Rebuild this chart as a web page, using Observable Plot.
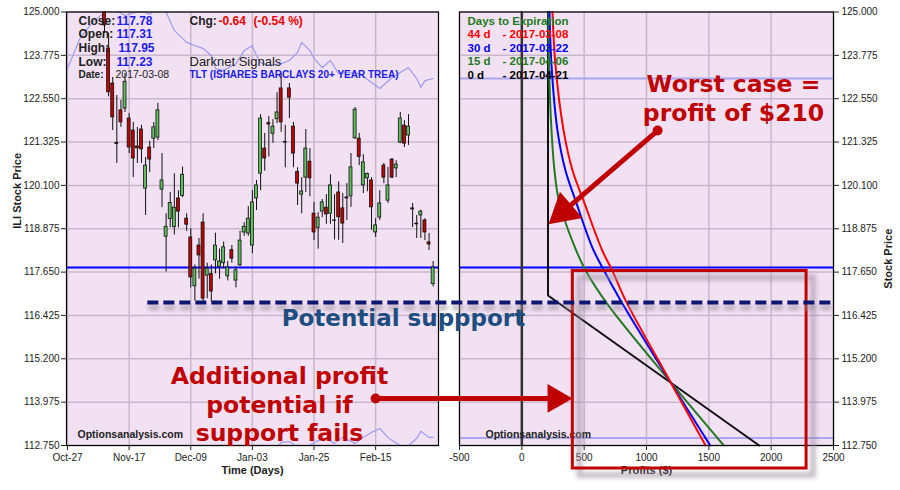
<!DOCTYPE html>
<html>
<head>
<meta charset="utf-8">
<script src="https://cdn.jsdelivr.net/npm/d3@7"></script>
<script src="https://cdn.jsdelivr.net/npm/@observablehq/plot@0.6"></script>
<style>
  html, body { margin: 0; padding: 0; background: #fff; }
  #chart { position: relative; width: 900px; height: 490px; overflow: hidden; }
  #chart svg { position: absolute; left: 0; top: 0; overflow: visible; }
</style>
</head>
<body>
<div id="chart"></div>
<script>
// ---------------- DATA ----------------
// left panel: trading-day index (0 = Oct-27) and OHLC prices
const tickIndex = [0, 15, 30, 45, 60, 75];
const tickLabels = ["Oct-27", "Nov-17", "Dec-09", "Jan-03", "Jan-25", "Feb-15"];
const priceTicks = [112.75, 113.975, 115.2, 116.425, 117.65, 118.875, 120.1, 121.325, 122.55, 123.775, 125];
const profitTicks = [-500, 0, 500, 1000, 1500, 2000, 2500];

const dayIndex = [9,10,11,12,13,14,15,16,17,18,19,20,21,22,23,24,25,26,27,28,29,30,31,32,33,34,35,36,37,38,39,40,41,42,43,44,45,46,47,48,49,50,51,52,53,54,55,56,57,58,59,60,61,62,63,64,65,66,67,68,69,70,71,72,73,74,75,76,77,78,79,80,81,82,83,84,85,86,87,88,89];
const openP = [125.50,123.97,122.98,121.30,122.22,122.27,121.99,121.65,121.20,121.68,120.01,121.17,121.42,121.45,119.98,118.65,119.15,118.92,119.73,119.80,119.16,118.63,117.25,118.40,119.05,117.55,117.60,117.98,117.80,117.90,117.53,118.27,117.41,117.84,118.77,118.74,118.40,119.73,120.43,121.14,121.86,121.56,121.97,122.84,121.33,122.84,121.76,120.48,119.84,120.32,120.77,119.30,118.90,119.36,119.47,119.30,119.11,119.90,119.45,119.76,119.79,121.43,121.42,120.10,120.30,120.24,118.77,119.19,120.66,119.67,120.83,120.58,121.31,121.79,121.51,119.45,119.02,119.25,119.11,118.49,117.31];
const highP = [125.80,124.40,123.15,122.64,122.50,123.26,122.13,121.88,121.74,121.80,120.89,121.35,121.88,122.42,121.00,119.30,119.90,120.43,119.95,120.62,119.30,118.88,117.85,118.60,119.30,117.90,117.85,118.75,118.30,118.50,117.95,118.40,117.80,118.80,119.05,119.50,119.95,120.24,122.10,121.57,122.05,121.96,122.72,123.26,121.80,122.98,121.88,120.60,120.32,121.68,121.14,119.62,119.33,119.70,119.84,120.40,119.84,120.20,119.87,120.15,121.00,122.30,121.57,120.97,120.45,120.32,119.16,119.95,120.72,120.61,120.86,120.80,122.16,121.93,122.10,119.59,119.25,119.40,119.16,118.74,117.95];
const lowP = [124.40,122.60,121.65,120.72,121.74,122.16,121.00,120.32,120.72,120.72,119.25,120.46,121.14,121.37,119.47,117.65,118.90,118.70,118.90,119.75,118.80,117.20,116.83,117.45,116.75,116.90,116.80,117.60,117.45,117.75,117.40,117.90,117.20,117.80,118.66,118.66,118.17,119.39,119.95,120.50,120.90,121.29,121.85,121.60,120.60,121.99,120.60,119.53,119.30,119.90,119.78,118.54,118.30,119.19,119.00,119.00,118.56,118.55,118.46,119.11,119.48,121.40,120.66,119.87,119.92,118.83,118.63,119.11,120.15,119.59,120.29,120.32,121.28,121.17,121.23,118.91,118.60,118.60,118.54,118.26,117.23];
const closeP = [124.62,122.73,122.02,121.27,121.88,123.03,121.17,120.86,121.15,121.12,120.66,120.83,121.74,122.22,120.24,118.93,119.60,119.47,119.36,120.40,118.99,117.50,117.75,118.12,116.90,117.75,117.10,118.40,117.95,118.35,117.78,118.03,117.70,118.54,118.93,119.16,119.62,120.10,121.99,120.86,121.82,121.76,122.16,121.88,121.31,122.58,121.00,120.15,119.93,121.14,120.30,118.77,119.19,119.62,119.28,120.10,119.10,119.20,119.02,119.73,120.61,122.24,120.90,120.75,120.42,119.48,118.97,119.59,120.32,120.10,120.32,120.69,121.99,121.28,121.76,119.42,119.00,119.36,118.77,118.43,117.78];

// light overlay indicator (upper and lower traces), in price units
const indTopDay = [0,3,6,9,11,14,18,20,22,24,26,29,31,33,35,36,38,41,43,45,46,47,49,52,54,56,57,59,60,62,64,66,68,71,74,76,79,83,85,86,87,89];
const indTopVal = [123.40,124.25,124.70,124.99,125.10,124.90,125.04,124.93,125.13,124.99,124.48,124.14,124.05,123.97,123.77,123.40,123.35,123.54,123.91,124.05,123.77,123.57,123.49,123.54,123.63,123.86,124.14,123.91,123.69,123.43,123.63,123.26,123.29,123.26,123.01,122.84,123.15,123.43,123.12,122.87,123.06,123.12];
const indLowDay = [50,52,54,57,58,61,63,65,67,70,72,74,76,78,79,81,83,85,86,88,89];
const indLowVal = [112.50,112.84,112.86,112.64,112.69,112.89,112.95,112.81,112.98,112.81,112.98,113.12,113.23,112.98,112.89,112.75,112.75,112.95,113.15,112.98,112.98];

// right panel: profit ($) vs stock price for each expiration
const redPrice   = [125.0, 123.49, 121.65, 120.52, 119.67, 118.26, 117.70, 116.85, 114.54, 112.75];
const redProfit  = [246, 270, 335, 407, 495, 645, 725, 832, 1193, 1474];
const bluePrice  = [125.0, 123.49, 121.65, 120.52, 119.67, 118.35, 117.70, 116.85, 114.54, 112.75];
const blueProfit = [222, 238, 286, 350, 431, 565, 658, 792, 1193, 1511];
const greenPrice = [125.0, 123.49, 121.65, 120.52, 119.67, 118.54, 117.70, 116.75, 114.54, 112.75];
const greenProfit= [214, 218, 238, 262, 297, 404, 511, 685, 1193, 1620];
const blackPrice = [125.0, 116.99, 112.75];
const blackProfit= [210, 210, 1904];

const seriesNames = ["44 d", "30 d", "15 d", "0 d"];
const seriesDates = ["- 2017-03-08", "- 2017-03-22", "- 2017-04-06", "- 2017-04-21"];
const seriesColors = ["#ff0000", "#0000ff", "#237a23", "#000000"];

const lastClose = 117.78, prevChange = -0.64, prevChangePct = -0.54;
const supportLevel = 116.79;
const upperRef = 123.12, lowerRef = 112.96;

// annotation anchors (profit $, price)
const worstArrow = {from: [1089, 121.65], to: [214, 119.0]};
const addArrow = {from: [-1173, 114.08], to: [407, 114.08]};
const highlightBox = {x1: 409, x2: 2284, y1: 112.10, y2: 117.68};

// ---------------- LAYOUT ----------------
const W = 900, H = 490, mTop = 11.5, mBottom = 45;
const leftL = 66, leftR = 438, rightL = 459, rightR = 833;
const lavender = "#f1e1f3", gridC = "#cbb7cd";
const red = "#c00000", navy = "#0a1670";
const shadowC = "#9d8d9f", shadowC2 = "#9e8ea0";
const base = "'Liberation Sans', Arial, sans-serif";
const anno = "'DejaVu Sans', sans-serif";

const candles = dayIndex.map((d, k) => ({i: d, o: openP[k], h: highP[k], l: lowP[k], c: closeP[k]}));
const mk = (xs, ys) => xs.map((x, k) => ({x, y: ys[k]}));
const redC = mk(redProfit, redPrice), blueC = mk(blueProfit, bluePrice),
      greenC = mk(greenProfit, greenPrice), blackC = mk(blackProfit, blackPrice);

const hdrL = (t, px, py, o = {}) => Plot.text([t], {frameAnchor: "top-left", dx: px - leftL, dy: py - mTop,
  textAnchor: "start", lineAnchor: "bottom", fontFamily: base, fontSize: 12, fontWeight: "bold", fill: "#222", ...o});
const hdrR = (t, px, py, o = {}) => Plot.text([t], {frameAnchor: "top-left", dx: px - rightL, dy: py - mTop,
  textAnchor: "start", lineAnchor: "bottom", fontFamily: base, fontSize: 11.5, fontWeight: "bold", fill: "#222", ...o});

const last = candles[candles.length - 1];
const blueTxt = "#1c1cf0";

const left = Plot.plot({
  width: W, height: H,
  marginLeft: leftL, marginRight: W - leftR, marginTop: mTop, marginBottom: mBottom,
  style: {background: "transparent", overflow: "visible", fontFamily: base, fontSize: "10px", color: "#222"},
  x: {domain: [-0.25, 90.3]},
  y: {domain: [112.75, 125]},
  color: {type: "identity"},
  marks: [
    Plot.frame({fill: lavender}),
    Plot.gridX(tickIndex, {stroke: gridC, strokeOpacity: 1, strokeWidth: 1.5}),
    Plot.gridY(priceTicks, {stroke: gridC, strokeOpacity: 1, strokeWidth: 1.5}),
    Plot.line(mk(indTopDay, indTopVal), {x: "x", y: "y", stroke: "#9c9cf0", strokeWidth: 1.2, clip: true}),
    Plot.line(mk(indLowDay, indLowVal), {x: "x", y: "y", stroke: "#9c9cf0", strokeWidth: 1.2, clip: true}),
    Plot.ruleY([lastClose], {stroke: "#0000ff", strokeWidth: 2}),
    Plot.ruleX(candles, {x: "i", y1: "l", y2: "h", stroke: "#111", strokeWidth: 1, clip: true}),
    Plot.rect(candles, {x1: d => d.i - 0.36, x2: d => d.i + 0.36, y1: "o", y2: "c",
      fill: d => d.c >= d.o ? "#5fbf5f" : "#c00000", stroke: "#111", strokeWidth: 0.8, clip: true}),
    Plot.frame({stroke: "#000", strokeWidth: 1.2}),
    Plot.axisX(tickIndex, {anchor: "bottom", tickSize: 5, tickPadding: 3, fontSize: 10,
      tickFormat: d => tickLabels[tickIndex.indexOf(d)], label: null}),
    Plot.axisY(priceTicks, {anchor: "left", tickSize: 5, tickPadding: 2, fontSize: 10,
      tickFormat: d3.format(".3f"), label: null}),
    Plot.text(["Time (Days)"], {frameAnchor: "bottom", dy: 28, fontSize: 11, fontWeight: "bold", fill: "#222"}),
    Plot.text(["ILI Stock Price"], {frameAnchor: "left", dx: -49, rotate: -90, fontSize: 11, fontWeight: "bold", fill: "#222"}),
    // header
    hdrL("Close:", 78, 24), hdrL(last.c.toFixed(2), 116, 24, {fill: blueTxt}),
    hdrL("Open:", 78, 37.5), hdrL(last.o.toFixed(2), 116, 37.5, {fill: blueTxt}),
    hdrL("High:", 78, 51), hdrL(last.h.toFixed(2), 118, 51, {fill: blueTxt}),
    hdrL("Low:", 78, 65), hdrL(last.l.toFixed(2), 116, 65, {fill: blueTxt}),
    hdrL("Date:", 78, 77.5, {fontSize: 10}), hdrL("2017-03-08", 115, 77.5, {fontSize: 10.5, fontWeight: "normal"}),
    hdrL("Chg:", 189, 24), hdrL(prevChange.toFixed(2), 218, 24, {fill: "#ee0000"}),
    hdrL(`(${prevChangePct.toFixed(2)} %)`, 253, 24, {fill: "#ee0000"}),
    hdrL("Darknet Signals", 189, 65, {fontSize: 13, fontWeight: "normal"}),
    hdrL("TLT (ISHARES BARCLAYS 20+ YEAR TREA)", 189, 77.5, {fontSize: 10, fill: blueTxt}),
    hdrL("Optionsanalysis.com", 77, 437, {fontSize: 10.5})
  ]
});

// ---- arrow geometry helpers (same scales as the right plot) ----
const xR = d3.scaleLinear([-500, 2500], [rightL, rightR]);
const yP = d3.scaleLinear([112.75, 125], [H - mBottom, mTop]);
function arrowParts(a, headLen) {
  const p0 = [xR(a.from[0]), yP(a.from[1])], p1 = [xR(a.to[0]), yP(a.to[1])];
  const dx = p1[0] - p0[0], dy = p1[1] - p0[1], len = Math.hypot(dx, dy);
  const ux = dx / len, uy = dy / len;
  const c = [p1[0] - ux * headLen * 2 / 3, p1[1] - uy * headLen * 2 / 3];
  const r = Math.sqrt((Math.sqrt(3) / 3) * headLen * headLen / Math.PI);
  const rot = Math.atan2(ux, -uy) * 180 / Math.PI;
  return {from: {x: a.from[0], y: a.from[1]}, center: {x: xR.invert(c[0]), y: yP.invert(c[1])}, r, rot};
}
function arrowMarks(a, headLen, width) {
  const p = arrowParts(a, headLen);
  return [
    Plot.link([p], {x1: d => d.from.x, y1: d => d.from.y, x2: d => d.center.x, y2: d => d.center.y, stroke: red, strokeWidth: width}),
    Plot.dot([p.from], {x: "x", y: "y", r: 5, fill: red}),
    Plot.dot([p.center], {x: "x", y: "y", symbol: "triangle", r: p.r, rotate: p.rot, fill: red, stroke: "none"})
  ];
}

const legend = [hdrR("Days to Expiration", 467, 24, {fill: "#237a23"})];
seriesNames.forEach((n, k) => {
  const yb = 37.5 + k * 13.5;
  legend.push(hdrR(n, 467, yb, {fill: seriesColors[k]}));
  legend.push(hdrR(seriesDates[k], 502, yb, {fill: seriesColors[k]}));
});

const right = Plot.plot({
  width: W, height: H,
  marginLeft: rightL, marginRight: W - rightR, marginTop: mTop, marginBottom: mBottom,
  style: {background: "transparent", overflow: "visible", fontFamily: base, fontSize: "10px", color: "#222"},
  x: {domain: [-500, 2500]},
  y: {domain: [112.75, 125]},
  marks: [
    Plot.frame({fill: lavender}),
    Plot.gridX(profitTicks, {stroke: gridC, strokeOpacity: 1, strokeWidth: 1.5}),
    Plot.gridY(priceTicks, {stroke: gridC, strokeOpacity: 1, strokeWidth: 1.5}),
    Plot.ruleY([upperRef, lowerRef], {stroke: "#aaa6f2", strokeWidth: 2}),
    Plot.ruleY([lastClose], {stroke: "#0000ff", strokeWidth: 2}),
    Plot.ruleX([0], {stroke: "#333", strokeWidth: 2.5}),
    Plot.line(blackC, {x: "x", y: "y", stroke: "#111", strokeWidth: 2}),
    Plot.line(greenC, {x: "x", y: "y", stroke: "#237a23", strokeWidth: 2, curve: "catmull-rom"}),
    Plot.line(blueC, {x: "x", y: "y", stroke: "#0000ff", strokeWidth: 2, curve: "catmull-rom"}),
    Plot.line(redC, {x: "x", y: "y", stroke: "#ff0000", strokeWidth: 2, curve: "catmull-rom"}),
    Plot.frame({stroke: "#000", strokeWidth: 1.2}),
    Plot.axisX(profitTicks, {anchor: "bottom", tickSize: 5, tickPadding: 3, fontSize: 10, label: null,
      tickFormat: d => String(d)}),
    Plot.axisY(priceTicks, {anchor: "right", tickSize: 5, tickPadding: 3, fontSize: 10,
      tickFormat: d3.format(".3f"), label: null}),
    Plot.text(["Profits ($)"], {frameAnchor: "bottom", dy: 28, fontSize: 11, fontWeight: "bold", fill: "#222"}),
    Plot.text(["Stock Price"], {frameAnchor: "right", dx: 55, rotate: -90, fontSize: 11, fontWeight: "bold", fill: "#222"}),
    ...legend,
    hdrR("Optionsanalysis.com", 485, 437, {fontSize: 10.5}),
    // highlight box + shadow
    Plot.rect([highlightBox], {x1: "x1", x2: "x2", y1: "y1", y2: "y2", fill: "none", stroke: shadowC, strokeWidth: 6, strokeOpacity: 0.55, dx: 7, dy: 7}),
    Plot.rect([highlightBox], {x1: "x1", x2: "x2", y1: "y1", y2: "y2", fill: "none", stroke: red, strokeWidth: 3}),
    // support line + shadow
    Plot.ruleY([supportLevel], {x1: -3000, x2: 2500, stroke: shadowC2, strokeOpacity: 0.7, strokeWidth: 5, strokeDasharray: "11,5", dy: 5, dx: 1}),
    Plot.ruleY([supportLevel], {x1: -3000, x2: 2500, stroke: navy, strokeWidth: 4, strokeDasharray: "11,5"}),
    Plot.text(["Potential suppport"], {x: -950, y: supportLevel, dy: 23, lineAnchor: "bottom", fontFamily: anno,
      fontSize: 23, fontWeight: "bold", fill: "#1e4d80"}),
    // annotations
    Plot.text(["Additional profit\npotential if\nsupport fails"], {x: -1944, y: 115.06, lineAnchor: "top", lineHeight: 1.22,
      fontFamily: anno, fontSize: 23.5, fontWeight: "bold", fill: red}),
    Plot.text(["Worst case =\nprofit of $210"], {x: 1698, y: 123.31, lineAnchor: "top", lineHeight: 1.23,
      fontFamily: anno, fontSize: 23.5, fontWeight: "bold", fill: red}),
    ...arrowMarks(worstArrow, 30, 5),
    ...arrowMarks(addArrow, 25, 5)
  ]
});

const host = document.getElementById("chart");
host.appendChild(left);
host.appendChild(right);
d3.select(right).selectAll(`[stroke="${shadowC}"], [stroke="${shadowC2}"]`).style("filter", "blur(2px)");
</script>
</body>
</html>
